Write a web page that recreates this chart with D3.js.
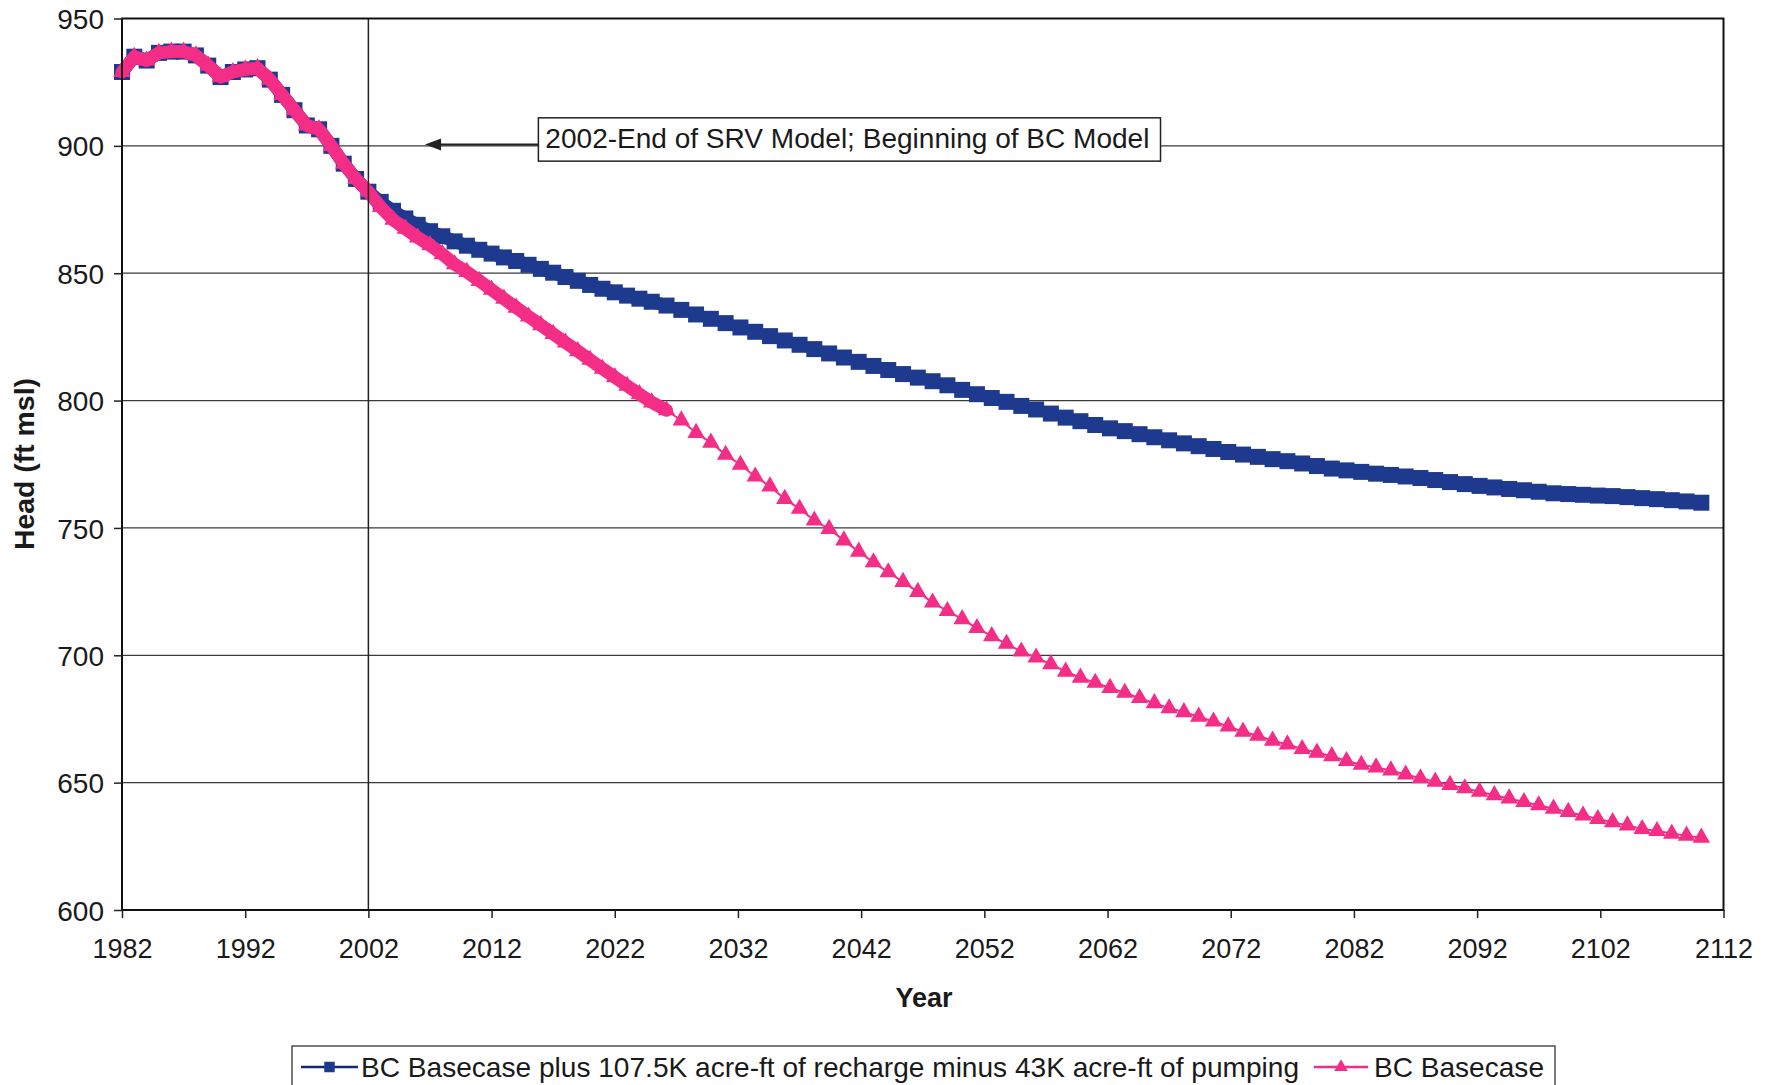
<!DOCTYPE html>
<html>
<head>
<meta charset="utf-8">
<script src="https://cdn.jsdelivr.net/npm/d3@7"></script>
<style>
  body { margin: 0; background: #fff; }
  svg { display: block; }
</style>
</head>
<body>
<div id="chart"></div>
<script>
// axis ticks
const yearTicks = [1982, 1992, 2002, 2012, 2022, 2032, 2042, 2052, 2062, 2072, 2082, 2092, 2102, 2112];
const headTicks = [600, 650, 700, 750, 800, 850, 900, 950];

// SRV model history 1982-2002 (both runs share it), yearly
const historyYears = d3.range(1982, 2003);
const historyHead = [929, 935, 933.5, 936.5, 937, 937, 935.5, 931.5, 927, 929, 930, 930.5, 926, 920, 914, 908, 906.5, 900, 893, 887, 882];

// BC model, early years 2003-2025, yearly
const transitionYears = d3.range(2003, 2026);
const rechargeTransition = [878, 874.5, 871.5, 869, 866.5, 864.5, 862.5, 860.8, 859.2, 857.7, 856.2, 854.8, 853.3, 851.7, 850.2, 848.5, 847, 845.4, 843.9, 842.5, 841.2, 840, 838.8];
const basecaseTransition = [876, 871, 867.5, 864, 861, 857.5, 853.5, 850.5, 847, 843.5, 840, 836.5, 833, 829.6, 826.2, 822.8, 819.4, 816, 812.5, 809.2, 805.8, 802.5, 799.3];

// BC model, later time steps (~1.2 yr apart)
const bcYears = d3.range(2026.2, 2110.3, 1.2);
const rechargeLate = [837.3, 835.6, 833.8, 832.1, 830.4, 828.7, 827.0, 825.3, 823.6, 821.9,
  820.2, 818.5, 816.9, 815.2, 813.6, 812.0, 810.4, 809.0, 807.6, 806.0,
  804.2, 802.5, 801.0, 799.5, 797.9, 796.5, 794.9, 793.3, 791.9, 790.4,
  789.1, 788.0, 786.8, 785.6, 784.4, 783.2, 782.1, 781.0, 779.8, 778.8,
  777.9, 777.0, 776.2, 775.3, 774.3, 773.3, 772.6, 772.0, 771.3, 770.8,
  770.2, 769.6, 768.8, 768.0, 767.2, 766.5, 765.9, 765.3, 764.8, 764.2,
  763.6, 763.3, 763.0, 762.7, 762.5, 762.1, 761.7, 761.3, 760.9, 760.4, 759.9];
const basecaseLate = [796.2, 792.2, 787.3, 783.5, 778.7, 774.8, 770.2, 766.3, 761.4, 757.5,
  752.9, 749.6, 745.1, 740.7, 736.5, 732.6, 728.8, 724.9, 720.7, 717.4,
  714.2, 710.7, 707.5, 704.5, 701.5, 699.1, 696.5, 693.6, 691.2, 689.2,
  687.2, 685.3, 683.2, 681.2, 679.2, 677.7, 675.9, 674.0, 672.1, 670.0,
  668.4, 666.5, 665.0, 663.2, 661.8, 660.4, 658.5, 657.0, 656.0, 654.8,
  653.2, 651.7, 650.4, 649.1, 647.8, 646.4, 645.1, 643.8, 642.4, 641.1,
  639.8, 638.5, 637.1, 635.7, 634.5, 633.2, 631.8, 631.0, 630.0, 629.2, 628.4];

const seriesNames = ["BC Basecase plus 107.5K acre-ft of recharge minus 43K acre-ft of pumping", "BC Basecase"];
const noteText = "2002-End of SRV Model; Beginning of BC Model";
const modelSwitchYear = 2002;
const denseUntil = 2025; // before this the markers sit so close they merge into a band

const allYears = historyYears.concat(transitionYears, bcYears);
const rechargeHead = historyHead.concat(rechargeTransition, rechargeLate);
const basecaseHead = historyHead.concat(basecaseTransition, basecaseLate);
const recharge = allYears.map((yr, i) => ({ year: yr, head: rechargeHead[i] }));
const basecase = allYears.map((yr, i) => ({ year: yr, head: basecaseHead[i] }));

const width = 1776, height = 1085;
const margin = { top: 18.5, right: 52.5, bottom: 175, left: 122 };
const FONT = "'Liberation Sans', Arial, Helvetica, sans-serif";
const BLUE = "#1e3a8e", BLUE_LINE = "#142a70", PINK = "#f42d86";

const svg = d3.select("#chart").append("svg").attr("width", width).attr("height", height)
  .style("font-family", FONT);

const x = d3.scaleLinear().domain([1982, 2112]).range([margin.left, width - margin.right]);
const y = d3.scaleLinear().domain([600, 950]).range([height - margin.bottom, margin.top]);

// gridlines
svg.append("g")
  .selectAll("line")
  .data(headTicks.filter(d => d > 600 && d < 950))
  .join("line")
  .attr("x1", x.range()[0]).attr("x2", x.range()[1])
  .attr("y1", d => y(d)).attr("y2", d => y(d))
  .attr("stroke", "#3a3a3a").attr("stroke-width", 1.3);

// series
const line = d3.line().x(d => x(d.year)).y(d => y(d.head));

function drawSeries(data, color, lineColor, symbol, size, bandWidth) {
  svg.append("path").datum(data.filter(d => d.year <= denseUntil + 1.5))
    .attr("d", line).attr("fill", "none")
    .attr("stroke", color).attr("stroke-width", bandWidth)
    .attr("stroke-linejoin", "round").attr("stroke-linecap", "round");
  svg.append("path").datum(data)
    .attr("d", line).attr("fill", "none").attr("stroke", lineColor).attr("stroke-width", 2);
  svg.append("g").selectAll("path")
    .data(data)
    .join("path")
    .attr("transform", d => `translate(${x(d.year)},${y(d.head)})`)
    .attr("d", d3.symbol(symbol, size))
    .attr("fill", color);
}

drawSeries(recharge, BLUE, BLUE_LINE, d3.symbolSquare, 256, 13);
drawSeries(basecase, PINK, PINK, d3.symbolTriangle, 132, 13);

// model switch line
svg.append("line")
  .attr("x1", x(modelSwitchYear)).attr("x2", x(modelSwitchYear))
  .attr("y1", y(950)).attr("y2", y(600))
  .attr("stroke", "#222").attr("stroke-width", 1.5);

// plot frame
svg.append("rect")
  .attr("x", x.range()[0]).attr("y", y(950))
  .attr("width", x.range()[1] - x.range()[0]).attr("height", y(600) - y(950))
  .attr("fill", "none").attr("stroke", "#111").attr("stroke-width", 2);

// axes
const xAxis = svg.append("g")
  .attr("transform", `translate(0,${y(600)})`)
  .call(d3.axisBottom(x).tickValues(yearTicks).tickFormat(d3.format("d")).tickSize(8).tickPadding(21));
const yAxis = svg.append("g")
  .attr("transform", `translate(${x(1982)},0)`)
  .call(d3.axisLeft(y).tickValues(headTicks).tickSize(8).tickPadding(10));
[xAxis, yAxis].forEach(g => {
  g.select(".domain").remove();
  g.selectAll(".tick line").attr("stroke", "#222").attr("stroke-width", 1.5);
  g.selectAll("text").attr("fill", "#1a1a1a").style("font-family", FONT);
});
xAxis.selectAll("text").attr("font-size", 27);
yAxis.selectAll("text").attr("font-size", 28).attr("dy", "0.36em");

svg.append("text")
  .attr("x", 924).attr("y", 998)
  .attr("text-anchor", "middle").attr("dominant-baseline", "central")
  .attr("font-size", 27).attr("font-weight", "bold").attr("fill", "#1a1a1a")
  .text("Year");

svg.append("text")
  .attr("transform", "translate(25,464) rotate(-90)")
  .attr("text-anchor", "middle").attr("dominant-baseline", "central")
  .attr("font-size", 27).attr("font-weight", "bold").attr("fill", "#1a1a1a")
  .attr("textLength", 172).attr("lengthAdjust", "spacingAndGlyphs")
  .text("Head (ft msl)");

// annotation with arrow
const noteBox = { left: 2015.8, right: 2066.3, top: 911, bottom: 894 };
const arrowTip = { year: 2006.6, head: 900.5 };
const bx0 = x(noteBox.left), bx1 = x(noteBox.right), by0 = y(noteBox.top), by1 = y(noteBox.bottom);
const tipX = x(arrowTip.year), tipY = y(arrowTip.head);
svg.append("line")
  .attr("x1", bx0).attr("x2", tipX + 12)
  .attr("y1", tipY).attr("y2", tipY)
  .attr("stroke", "#222").attr("stroke-width", 2);
svg.append("path")
  .attr("d", `M${tipX},${tipY} L${tipX + 16},${tipY - 6} L${tipX + 16},${tipY + 6} Z`)
  .attr("fill", "#222");
svg.append("rect")
  .attr("x", bx0).attr("y", by0).attr("width", bx1 - bx0).attr("height", by1 - by0)
  .attr("fill", "#fff").attr("stroke", "#222").attr("stroke-width", 1.5);
svg.append("text")
  .attr("x", bx0 + 7).attr("y", (by0 + by1) / 2)
  .attr("dominant-baseline", "central")
  .attr("font-size", 27).attr("fill", "#1a1a1a")
  .attr("textLength", 604).attr("lengthAdjust", "spacingAndGlyphs")
  .text(noteText);

// legend
const legend = svg.append("g");
legend.append("rect")
  .attr("x", 292).attr("y", 1046).attr("width", 1263).attr("height", 50)
  .attr("fill", "#fff").attr("stroke", "#333").attr("stroke-width", 1.3);
const legendItems = [
  { name: seriesNames[0], x0: 301, x1: 358, textX: 361, textLen: 938, color: BLUE, lineColor: BLUE_LINE, symbol: d3.symbolSquare, size: 110 },
  { name: seriesNames[1], x0: 1314, x1: 1368, textX: 1374, textLen: 170, color: PINK, lineColor: PINK, symbol: d3.symbolTriangle, size: 80 }
];
const ly = 1067;
legendItems.forEach(it => {
  legend.append("line")
    .attr("x1", it.x0).attr("x2", it.x1).attr("y1", ly).attr("y2", ly)
    .attr("stroke", it.lineColor).attr("stroke-width", 2.5);
  legend.append("path")
    .attr("transform", `translate(${(it.x0 + it.x1) / 2},${ly})`)
    .attr("d", d3.symbol(it.symbol, it.size))
    .attr("fill", it.color);
  legend.append("text")
    .attr("x", it.textX).attr("y", ly)
    .attr("dominant-baseline", "central")
    .attr("font-size", 28).attr("fill", "#1a1a1a")
    .attr("textLength", it.textLen).attr("lengthAdjust", "spacingAndGlyphs")
    .text(it.name);
});
</script>
</body>
</html>
